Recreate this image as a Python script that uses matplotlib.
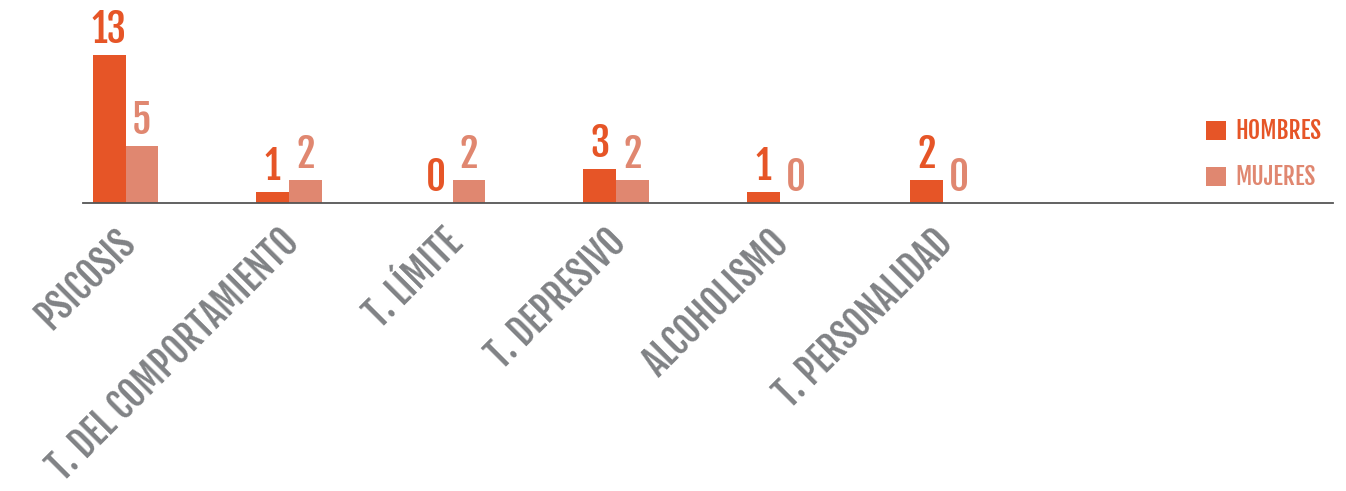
import matplotlib
matplotlib.use("Agg")
import matplotlib.pyplot as plt
from matplotlib.patches import Patch
from matplotlib.transforms import ScaledTranslation
import numpy as np

categories = ["PSICOSIS", "T. DEL COMPORTAMIENTO", "T. LÍMITE", "T. DEPRESIVO",
              "ALCOHOLISMO", "T. PERSONALIDAD"]
hombres = [13, 1, 0, 3, 1, 2]
mujeres = [5, 2, 2, 2, 0, 0]
series_names = ["HOMBRES", "MUJERES"]

C_H = "#E65527"
C_M = "#E08770"
C_TXT = "#808285"
FONT = ["Fjalla One", "DejaVu Sans"]

W, H = 1346, 491
fig = plt.figure(figsize=(W / 100, H / 100), dpi=100)
ax = fig.add_axes([83 / W, (H - 203) / H, (1333 - 83) / W, 203 / H])

x = np.arange(len(categories))
bw = 0.2
bh = ax.bar(x - bw / 2, hombres, bw, color=C_H, zorder=2)
bm = ax.bar(x + bw / 2, mujeres, bw, color=C_M, zorder=2)

ax.set_xlim(-0.26, 7.385)
ax.set_ylim(0, 17.8)

for bars, vals, col in [(bh, hombres, C_H), (bm, mujeres, C_M)]:
    for b, v in zip(bars, vals):
        ax.annotate(str(v), (b.get_x() + b.get_width() / 2, v),
                    xytext=(0, 2), textcoords="offset points",
                    ha="center", va="bottom", color=col,
                    fontsize=28, family=FONT)

for s in ["top", "right", "left"]:
    ax.spines[s].set_visible(False)
ax.spines["bottom"].set_color("#555555")
ax.spines["bottom"].set_linewidth(1.3)
ax.set_yticks([])
ax.set_xticks(x)
ax.set_xticklabels(categories, rotation=45, ha="right", va="center",
                   rotation_mode="anchor", fontsize=26, family=FONT, color=C_TXT)
ax.tick_params(axis="x", length=0, pad=24)
for lbl in ax.get_xticklabels():
    lbl.set_transform(lbl.get_transform() + ScaledTranslation(3 / 100, 0, fig.dpi_scale_trans))

handles = [Patch(facecolor=C_H, edgecolor="none"), Patch(facecolor=C_M, edgecolor="none")]
leg = fig.legend(handles, series_names, loc="upper left",
                 bbox_to_anchor=(1206 / W, 1 - 118 / H),
                 frameon=False, handlelength=0.85, handleheight=0.85,
                 handletextpad=0.4, labelspacing=0.85, borderpad=0, borderaxespad=0,
                 labelcolor=[C_H, C_M], prop={"family": FONT, "size": 17})

fig.savefig("out.png", dpi=100)
